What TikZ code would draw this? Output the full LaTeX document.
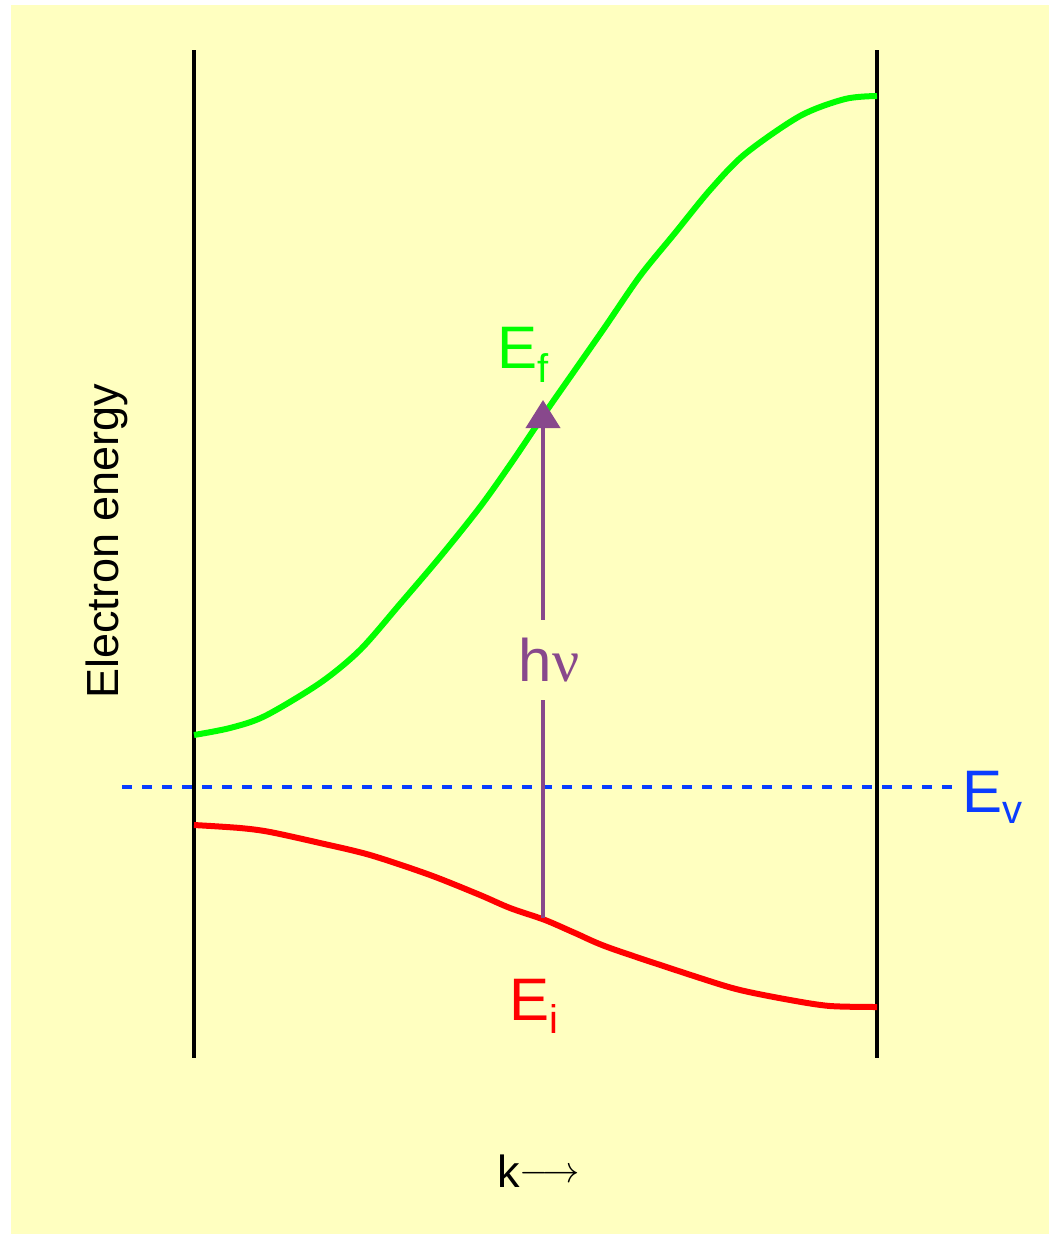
\documentclass[tikz,border=0pt]{standalone}
\usepackage{fontspec}
\setmainfont{Liberation Sans}
\newfontfamily\greekserif{Liberation Serif}
\usetikzlibrary{arrows.meta}
\definecolor{bgyellow}{RGB}{255,255,192}
\definecolor{bandgreen}{RGB}{0,255,0}
\definecolor{bandred}{RGB}{255,0,0}
\definecolor{levelblue}{RGB}{10,60,255}
\definecolor{photonpurple}{RGB}{136,72,140}
\newcommand{\bigtext}{\fontsize{60}{66}\selectfont}
\newcommand{\subtext}{\fontsize{40}{44}\selectfont}
\newcommand{\axistext}{\fontsize{45}{50}\selectfont}
\begin{document}
\begin{tikzpicture}[x=1pt,y=-1pt,
  zoneline/.style={line width=4.5pt,black},
  band/.style={line width=6pt,line join=round},
  lbl/.style={inner sep=0pt,anchor=base west}]
\useasboundingbox (0,0) rectangle (1049,1234);
\fill[bgyellow] (11,5) rectangle (1049,1234);
% zone boundaries
\draw[zoneline] (194,50) -- (194,1058);
\draw[zoneline] (877,50) -- (877,1058);
% reference level
\draw[levelblue,line width=4pt,dash pattern=on 10pt off 10pt] (122,787) -- (955,787);
\node[lbl,text=levelblue] (ev) at (962,812) {\bigtext E\raisebox{-11pt}{\subtext v}};
% upper band
\draw[band,bandgreen] plot[smooth,tension=0.5] coordinates {
 (194,735) (230,728) (265,716) (320,683) (360,650) (400,604) (440,557)
 (480,507) (512,462) (545,413) (575,370) (605,327) (640,276) (675,233)
 (710,190) (745,154) (800,116) (845,99) (877,96)};
% lower band
\draw[band,bandred] plot[smooth,tension=0.5] coordinates {
 (194,825) (240,828) (270,832) (320,843) (370,855) (430,875) (480,895)
 (510,908) (545,920) (575,933) (610,948) (700,978) (740,990) (790,1000)
 (830,1006) (877,1007)};
\node[lbl,text=bandgreen] (ef) at (497,368) {\bigtext E\raisebox{-14pt}{\subtext f}};
\node[lbl,text=bandred] (ei) at (509,1020) {\bigtext E\raisebox{-13pt}{\subtext i}};
% transition
\coordinate (start) at (543,918);
\coordinate (finish) at (543,400);
\node[inner sep=0pt,minimum height=80pt,text=photonpurple] (hv) at (549,660)
  {\bigtext h{\greekserif ν}};
\draw[photonpurple,line width=4pt] (start) -- (start |- hv.south);
\draw[photonpurple,line width=4pt,-{Triangle[width=34pt,length=28pt]}]
  (finish |- hv.north) -- (finish);
% axis labels
\node[inner sep=0pt,anchor=base,rotate=90] (ylab) at (118,541) {\axistext Electron energy};
\node[lbl] (xlab) at (497,1187) {\axistext k\raisebox{4.5pt}{\scalebox{1.5}{$\longrightarrow$}}};
\end{tikzpicture}
\end{document}
